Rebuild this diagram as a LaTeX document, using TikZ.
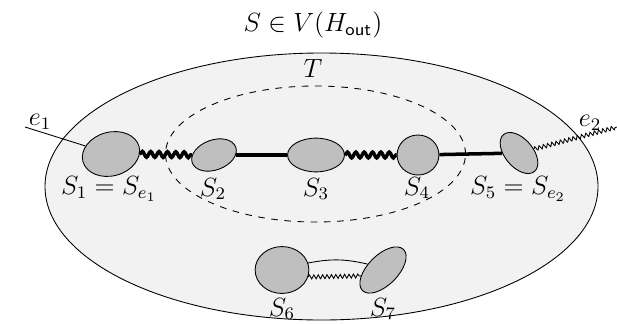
\documentclass[tikz,border=0pt]{standalone}
\usepackage{amsmath, amssymb}
\usepackage{xcolor}
\usepackage{tikz}
\usetikzlibrary{positioning, shapes.geometric, decorations.pathmorphing}
\definecolor{cloudgray}{HTML}{F2F2F2}
\definecolor{blobgray}{HTML}{BFBFBF}

\tikzset{
  blob/.style={draw, ellipse, fill=blobgray, inner sep=0pt},
  strong/.style={line width=1.6pt},
  wavy/.style={decorate, decoration={snake, segment length=3.8pt, amplitude=1.3pt}},
  thinwavy/.style={decorate, decoration={snake, segment length=2pt, amplitude=0.9pt}}
}

\begin{document}
\begin{tikzpicture}[x=0.16cm, y=0.16cm, font=\large]
  \useasboundingbox (0,0) rectangle (61.7,32.3);
  % the set S and the subgraph T
  \draw[fill=cloudgray] (32.15,13.65) ellipse [x radius=27.65, y radius=13.35];
  \draw[dashed] (31.55,16.9) ellipse [x radius=15.0, y radius=6.8];
  \node (title) at (31.3,29.8) {$S \in V(H_{\textsf{out}})$};
  \node (tlab) at (31.3,25.5) {$T$};

  % blobs
  \node[blob, minimum width=0.93cm, minimum height=0.70cm, rotate=15] (s1) at (11.1,16.9) {};
  \node[blob, minimum width=0.74cm, minimum height=0.48cm, rotate=20] (s2) at (21.4,16.8) {};
  \node[blob, minimum width=0.91cm, minimum height=0.54cm] (s3) at (31.6,16.8) {};
  \node[blob, minimum width=0.67cm, minimum height=0.64cm] (s4) at (41.8,16.8) {};
  \node[blob, minimum width=0.77cm, minimum height=0.45cm, rotate=-50] (s5) at (51.9,17.0) {};
  \node[blob, minimum width=0.86cm, minimum height=0.75cm] (s6) at (28.2,5.3) {};
  \node[blob, minimum width=0.93cm, minimum height=0.48cm, rotate=45] (s7) at (38.3,5.3) {};

  % labels
  \node (l1) at (10.9,13.4) {$S_1 = S_{e_1}$};
  \node (l2) at (21.3,13.4) {$S_2$};
  \node (l3) at (31.6,13.4) {$S_3$};
  \node (l4) at (41.7,13.5) {$S_4$};
  \node (l5) at (51.8,13.4) {$S_5 = S_{e_2}$};
  \node (l6) at (28.2,1.4) {$S_6$};
  \node (l7) at (38.3,1.4) {$S_7$};

  % edges
  \coordinate (e1end) at (2.5,19.6);
  \coordinate (e2end) at (61.7,19.6);
  \node (e1lab) at (4.0,20.1) {$e_1$};
  \node (e2lab) at (59.0,20.0) {$e_2$};
  \draw (e1end) -- (s1);
  \draw[thinwavy] (s5) -- (e2end);
  \draw[strong, wavy] (s1) -- (s2);
  \draw[strong] (s2) -- (s3);
  \draw[strong, wavy] (s3) -- (s4);
  \draw[strong] (s4) -- (s5);
  \draw (s6.15) to[bend left=12] (s7.114);
  \draw[thinwavy] (s6.-15) -- (s7.150);
\end{tikzpicture}
\end{document}
